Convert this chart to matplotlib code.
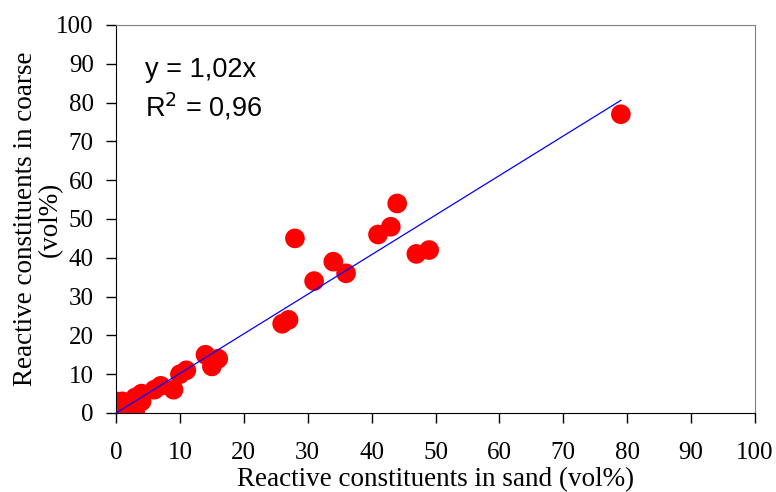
import numpy as np
import matplotlib.pyplot as plt

# reactive constituents (vol%): sand vs coarse
sand = [0, 0, 1, 1, 2, 2, 3, 3, 4, 4, 6, 7, 9, 10, 11, 14, 15, 16,
        26, 27, 28, 31, 34, 36, 41, 43, 44, 47, 49, 79]
coarse = [0, 3, 0, 3, 0, 2, 0, 4, 5, 3, 6, 7, 6, 10, 11, 15, 12, 14,
          23, 24, 45, 34, 39, 36, 46, 48, 54, 41, 42, 77]
slope = 1.02
r2 = 0.96

fig = plt.figure(figsize=(7.76, 4.92), dpi=100)
ax = fig.add_axes([0.1495, 0.1606, 0.8235, 0.7886])

ax.scatter(sand, coarse, s=200, color='red', edgecolors='none', zorder=2)
xl = np.array([0, max(sand)])
ax.plot(xl, slope * xl, color='blue', lw=0.9, zorder=3)

ax.set_xlim(0, 100)
ax.set_ylim(0, 100)
ax.set_xticks(range(0, 101, 10))
ax.set_yticks(range(0, 101, 10))
ax.tick_params(direction='out', length=7, width=1, labelsize=18, pad=14)
ax.tick_params(axis='y', pad=9)
for lab in ax.get_xticklabels() + ax.get_yticklabels():
    lab.set_family('Liberation Serif')
for s in ['top', 'right']:
    ax.spines[s].set_color('#808080')
ax.spines['left'].set_color('black')
ax.spines['bottom'].set_color('black')

ax.set_xlabel('Reactive constituents in sand (vol%)', family='Liberation Serif',
              fontsize=19.5, labelpad=2)
ax.set_ylabel('Reactive constituents in coarse\n(vol%)', family='Liberation Serif',
              fontsize=19.5, labelpad=-5, linespacing=1.0)

ax.text(0.045, 0.884, 'y = %sx' % str(slope).replace('.', ','), transform=ax.transAxes,
        family='Liberation Sans', fontsize=19.5, va='center')
ax.text(0.045, 0.789, 'R$^2$ = %s' % str(r2).replace('.', ','), transform=ax.transAxes,
        family='Liberation Sans', fontsize=19.5, va='center')

plt.savefig('out.png', dpi=100)
